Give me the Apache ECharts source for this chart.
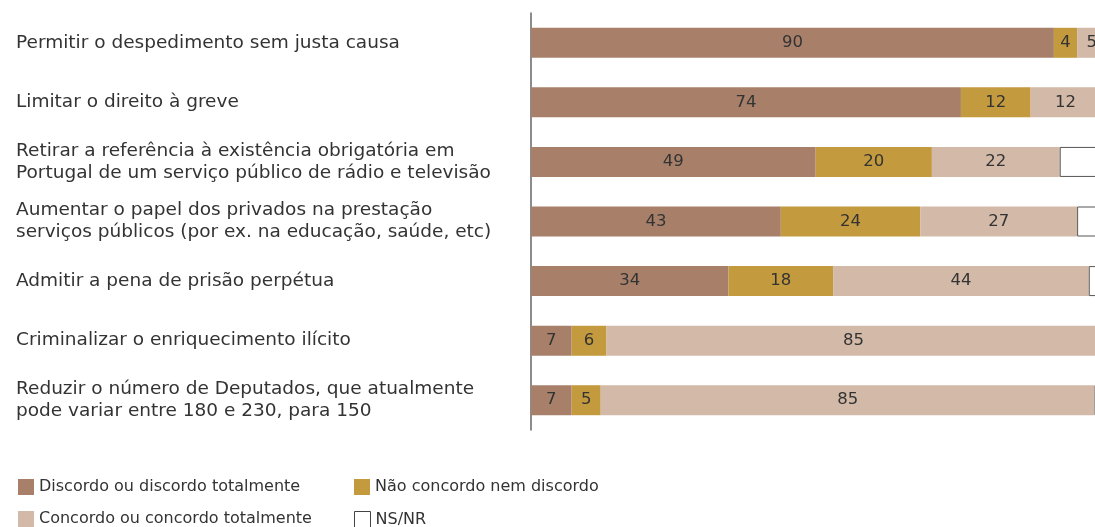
<!DOCTYPE html>
<html>
<head>
<meta charset="utf-8">
<script src="https://cdn.jsdelivr.net/npm/echarts@6/dist/echarts.min.js"></script>
<style>
  html, body { margin: 0; padding: 0; background: #fff; overflow: hidden; }
  #chart { width: 1112px; height: 527px; }
</style>
</head>
<body>
<div id="chart"></div>
<script>
// proposals, top to bottom
const categories = [
  'Permitir o despedimento sem justa causa',
  'Limitar o direito à greve',
  'Retirar a referência à existência obrigatória em\nPortugal de um serviço público de rádio e televisão',
  'Aumentar o papel dos privados na prestação\nserviços públicos (por ex. na educação, saúde, etc)',
  'Admitir a pena de prisão perpétua',
  'Criminalizar o enriquecimento ilícito',
  'Reduzir o número de Deputados, que atualmente\npode variar entre 180 e 230, para 150'
];
const discordo = [90, 74, 49, 43, 34, 7, 7];
const neutro = [4, 12, 20, 24, 18, 6, 5];
const concordo = [5, 12, 22, 27, 44, 85, 85];
const nsnr = [1, 2, 9, 6, 4, 2, 3];

const names = ['Discordo ou discordo totalmente', 'Não concordo nem discordo',
  'Concordo ou concordo totalmente', 'NS/NR'];
const colors = ['#a8806a', '#c39a3e', '#d3b9a7', '#ffffff'];
const FONT = 'DejaVu Sans';

const chart = echarts.init(document.getElementById('chart'));

function mkSeries(i, values) {
  return {
    name: names[i],
    type: 'bar',
    stack: 'total',
    barWidth: 30,
    data: values,
    itemStyle: i === 3
      ? { color: '#fff', borderColor: '#555', borderWidth: 1 }
      : { color: colors[i] },
    label: {
      show: i !== 3,
      color: '#333',
      fontSize: 16.5,
      fontFamily: FONT
    },
    emphasis: { disabled: true }
  };
}

// one legend per entry so the 2x2 grid sits where the original puts it
const legendPos = [[18, 479], [354, 479], [18, 511], [354, 511]];
const legends = names.map((n, i) => ({
  data: [n],
  left: legendPos[i][0], top: legendPos[i][1],
  padding: 0,
  itemWidth: 16, itemHeight: 16,
  icon: 'rect',
  itemStyle: i === 3 ? { borderColor: '#444', borderWidth: 1 } : {},
  textStyle: { color: '#333', fontSize: 16, fontFamily: FONT }
}));

chart.setOption({
  animation: false,
  grid: { left: 531, right: 0, top: 13, bottom: 97 },
  legend: legends,
  xAxis: {
    type: 'value', min: 0, max: 100,
    show: false
  },
  yAxis: {
    type: 'category',
    inverse: true,
    data: categories,
    axisLine: { show: true, lineStyle: { color: '#666', width: 1.5 } },
    axisTick: { show: false },
    axisLabel: {
      align: 'left',
      margin: 515,
      color: '#333',
      fontSize: 18.5,
      lineHeight: 22,
      fontFamily: FONT
    }
  },
  series: [
    mkSeries(0, discordo),
    mkSeries(1, neutro),
    mkSeries(2, concordo),
    mkSeries(3, nsnr)
  ]
});
</script>
</body>
</html>
